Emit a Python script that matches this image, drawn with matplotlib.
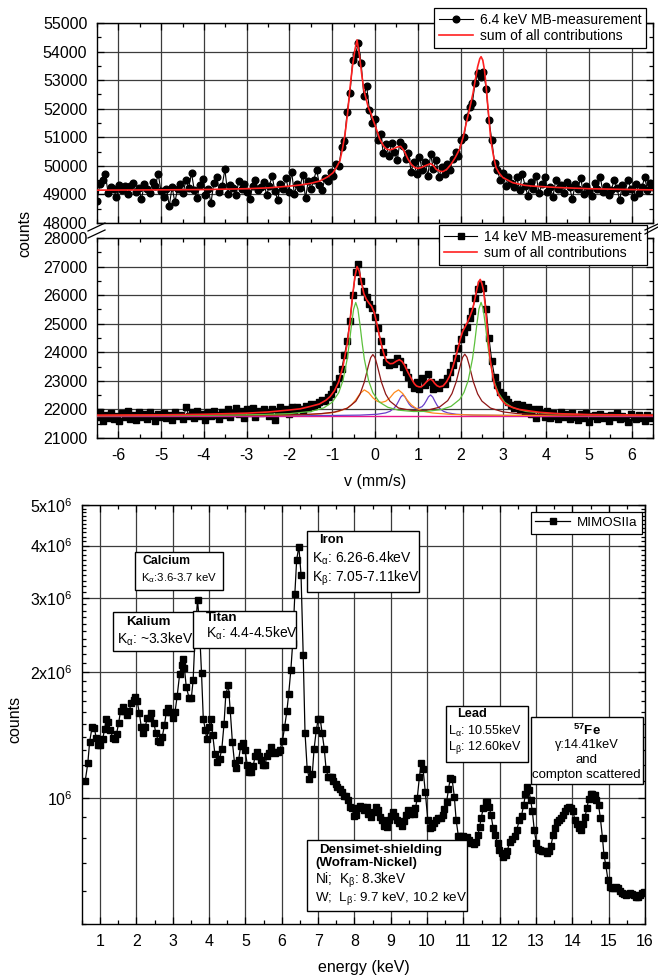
import numpy as np
import matplotlib
matplotlib.use('Agg')
import matplotlib.pyplot as plt
from matplotlib.lines import Line2D
from matplotlib.patches import Rectangle
from matplotlib.ticker import MultipleLocator, FixedLocator, FixedFormatter, NullFormatter

plt.rcParams['font.family'] = ['Liberation Sans', 'DejaVu Sans']
plt.rcParams['mathtext.fontset'] = 'custom'
plt.rcParams['mathtext.rm'] = 'Liberation Sans'
plt.rcParams['mathtext.it'] = 'Liberation Sans:italic'
plt.rcParams['mathtext.bf'] = 'Liberation Sans:bold'
plt.rcParams['mathtext.default'] = 'regular'
plt.rcParams['axes.unicode_minus'] = False

# ---------------- data ----------------
# 6.4 keV Moessbauer spectrum (counts per channel, channels spread over -6.5..6.5 mm/s)
counts_64 = [
    48760, 49350, 49520, 49700, 49050, 49260, 49180, 48900, 49330, 49150,
    49280, 49020, 49310, 49400, 49090, 49220, 48830, 49360, 49180, 49050,
    49450, 49280, 49730, 49120, 48910, 49200, 48600, 49260, 48730, 49180,
    49350, 49060, 49500, 49240, 49750, 49140, 48880, 49320, 49550, 48970,
    49200, 48690, 49400, 49620, 49100, 49290, 49880, 49030, 49340, 49210,
    48980, 49460, 49180, 49350, 49070, 48840, 49300, 49520, 49150, 49260,
    49430, 48980, 49310, 49640, 49120, 48810, 49360, 49200, 49560, 49100,
    49790, 49020, 49370, 49240, 49690, 48860, 49480, 49200, 49520, 49870,
    49340, 49140, 49580, 49460, 49790, 49650, 50080, 49980, 50650, 50880,
    51900, 52550, 53700, 53900, 54300, 53600, 52450, 52800, 51950, 51500,
    51650, 50900, 51100, 50450, 50750, 50350, 50800, 50500, 50200, 50850,
    50700, 50250, 50450, 49800, 50150, 49700, 50300, 49850, 50150, 49650,
    50400, 49900, 50200, 49600, 49950, 49700, 50050, 49850, 50250, 50500,
    50350, 50900, 51000, 51700, 52050, 52200, 52900, 53250, 53100, 53300,
    52700, 51600, 50900, 50100, 49850, 49500, 49750, 49300, 49600, 49400,
    49250, 49600, 49150, 49700, 49300, 48950, 49450, 49200, 49650, 49050,
    49350, 49600, 49100, 49250, 48920, 49500, 49180, 49340, 49060, 49450,
    49250, 48830, 49350, 49200, 49580, 49000, 49300, 49120, 48950, 49400,
    49200, 49620, 49090, 49300, 48980, 49160, 49500, 49240, 48800, 49330,
    49100, 49520, 49200, 48900, 49350, 49060, 49250, 49600, 49150, 49400,
    49250]

fit64_v = [-6.5, -5, -4, -3, -2.5, -2, -1.75, -1.5, -1.29, -1.1,
           -0.98, -0.9, -0.82, -0.76, -0.7, -0.64, -0.59, -0.53, -0.47, -0.42,
           -0.36, -0.31, -0.26, -0.2, -0.16, -0.1, -0.04, 0.04, 0.11, 0.2,
           0.27, 0.35, 0.42, 0.52, 0.6, 0.68, 0.77, 0.85, 0.93, 1.0,
           1.08, 1.2, 1.3, 1.37, 1.43, 1.52, 1.59, 1.68, 1.78, 1.88,
           1.98, 2.06, 2.13, 2.21, 2.29, 2.35, 2.4, 2.45, 2.48, 2.52,
           2.56, 2.6, 2.64, 2.71, 2.77, 2.83, 2.9, 2.99, 3.22, 3.5,
           3.69, 4.31, 5, 6, 6.5]
fit64_c = [49150, 49160, 49170, 49200, 49230, 49290, 49330, 49390, 49470, 49620,
           49760, 49950, 50180, 50600, 51120, 51850, 52650, 53450, 54060, 54410,
           53820, 53200, 52650, 52300, 52060, 51850, 51590, 51250, 50940, 50700,
           50590, 50560, 50590, 50660, 50680, 50530, 50240, 50050, 49940, 49910,
           49940, 50020, 50080, 50000, 49880, 49810, 49800, 49880, 50060, 50300,
           50590, 51000, 51470, 51990, 52530, 53050, 53470, 53750, 53820, 53700,
           53350, 52750, 52060, 50880, 50350, 49940, 49750, 49590, 49410, 49320,
           49290, 49240, 49200, 49170, 49160]

# 14 keV Moessbauer spectrum
counts_14 = [
    21750, 21900, 21600, 21820, 21700, 21880, 21650, 21780, 21600, 21860,
    21720, 21950, 21680, 21800, 21620, 21900, 21750, 21840, 21680, 21910,
    21770, 21610, 21850, 21720, 21880, 21700, 21820, 21640, 21900, 21760,
    21820, 21650, 22080, 21780, 21900, 21700, 21960, 21780, 21840, 21620,
    21900, 21770, 21960, 21800, 21680, 21920, 21800, 22010, 21750, 21880,
    22050, 21830, 21950, 21700, 22000, 21860, 22060, 21750, 21940, 21860,
    22030, 21900, 21780, 22010, 21620, 21950, 22080, 21900, 22010, 21850,
    22080, 21960, 22100, 22020, 21950, 22130, 22050, 22180, 22120, 22200,
    22260, 22330, 22300, 22450, 22550, 22700, 22900, 23100, 23400, 23900,
    24400, 25100, 26000, 26800, 27100, 26500, 26150, 25950, 25700, 25550,
    25250, 24850, 24400, 24000, 23650, 23550, 23650, 23600, 23800, 23700,
    23500, 23300, 23150, 22900, 22750, 22950, 22700, 23100, 22850, 23250,
    22950, 22700, 22900, 22750, 22950, 22900, 23100, 23300, 23550, 23800,
    24150, 24450, 24700, 24900, 25200, 25450, 25900, 26200, 26400, 26250,
    25500, 24500, 23700, 23150, 22850, 22600, 22500, 22350, 22250, 22150,
    22050, 22200, 22000, 22150, 21900, 22080, 21850, 22000, 21700, 22020,
    21880, 21750, 21950, 21700, 21860, 21780, 21650, 21900, 21720, 21830,
    21680, 21880, 21750, 21620, 21830, 21700, 21880, 21560, 21760, 21820,
    21650, 21840, 21700, 21780, 21590, 21800, 21720, 21880, 21650, 21780,
    21700, 21560, 21850, 21720, 21650, 21800, 21700, 21590, 21800, 21700,
    21750]

fit14_v = [-6.5, -5, -4, -3, -2.5, -2, -1.75, -1.5, -1.3, -1.15,
           -1.05, -0.95, -0.85, -0.75, -0.65, -0.59, -0.53, -0.47, -0.42, -0.37,
           -0.32, -0.26, -0.2, -0.14, -0.08, -0.02, 0.04, 0.1, 0.15, 0.21,
           0.27, 0.35, 0.42, 0.5, 0.57, 0.63, 0.69, 0.77, 0.85, 0.92,
           0.97, 1.03, 1.08, 1.14, 1.2, 1.25, 1.3, 1.35, 1.39, 1.45,
           1.51, 1.59, 1.67, 1.75, 1.82, 1.88, 1.94, 2.0, 2.05, 2.11,
           2.17, 2.23, 2.29, 2.34, 2.38, 2.42, 2.46, 2.5, 2.54, 2.58,
           2.61, 2.65, 2.69, 2.74, 2.79, 2.85, 2.91, 2.98, 3.06, 3.2,
           3.37, 3.6, 3.84, 4.31, 5.0, 6.5]
fit14_c = [21800, 21810, 21830, 21870, 21910, 21980, 22020, 22110, 22190, 22320,
           22450, 22650, 22960, 23500, 24300, 25000, 25900, 26650, 27000, 26850,
           26450, 26050, 25850, 25720, 25610, 25400, 25020, 24600, 24260, 23930,
           23690, 23600, 23610, 23690, 23740, 23680, 23550, 23300, 23080, 22900,
           22820, 22790, 22790, 22860, 22960, 23030, 23060, 23010, 22920, 22830,
           22790, 22820, 22960, 23180, 23490, 23800, 24140, 24500, 24730, 24900,
           25080, 25300, 25550, 25900, 26200, 26450, 26550, 26400, 26140, 25600,
           25080, 24400, 23790, 23300, 22900, 22650, 22450, 22300, 22170, 22080,
           22000, 21950, 21900, 21850, 21820, 21800]

# sub-spectra of the 14 keV fit
green_v = [-6.5, -4, -3, -2, -1.5, -1.2, -1.0, -0.85, -0.75, -0.65,
           -0.6, -0.55, -0.5, -0.45, -0.4, -0.35, -0.3, -0.25, -0.15, -0.05,
           0.1, 0.3, 0.55, 0.9, 1.2, 1.55, 1.78, 1.98, 2.08, 2.18,
           2.28, 2.33, 2.38, 2.43, 2.48, 2.53, 2.58, 2.63, 2.68, 2.78,
           2.88, 3.03, 3.23, 3.53, 4.03, 5.0, 6.5]
green_c = [21785, 21797, 21809, 21853, 21928, 22053, 22253, 22582, 23008, 23768,
           24321, 24953, 25511, 25744, 25512, 24954, 24323, 23770, 23010, 22586,
           22259, 22075, 21974, 21927, 21931, 21994, 22110, 22351, 22594, 23017,
           23775, 24327, 24959, 25516, 25748, 25516, 24958, 24326, 23774, 23011,
           22585, 22255, 22055, 21929, 21855, 21813, 21796]

brown_v = [-6.5, -3, -2, -1.55, -1.25, -0.95, -0.65, -0.45, -0.35, -0.25,
           -0.15, -0.1, -0.05, 0.0, 0.05, 0.15, 0.25, 0.35, 0.55, 0.85,
           1.025, 1.2, 1.5, 1.7, 1.8, 1.9, 2.0, 2.05, 2.1, 2.15,
           2.2, 2.3, 2.4, 2.5, 2.7, 3.0, 3.3, 3.6, 4.25, 5.0, 6.5]
brown_c = [21785, 21796, 21813, 21830, 21855, 21907, 22040, 22283, 22535, 22956,
           23555, 23815, 23920, 23815, 23555, 22957, 22537, 22287, 22049, 21964,
           21952, 21964, 22074, 22308, 22555, 22973, 23570, 23828, 23933, 23826,
           23566, 22966, 22543, 22291, 22047, 21912, 21859, 21833, 21809, 21797, 21785]

orange_v = [-6.5, -3, -2, -1.5, -1.05, -0.85, -0.65, -0.55, -0.45, -0.35,
            -0.25, -0.15, -0.05, 0.05, 0.15, 0.25, 0.35, 0.45, 0.55, 0.65,
            0.75, 0.85, 0.95, 1.15, 1.35, 1.8, 2.3, 3.3, 5.0, 6.5]
orange_c = [21783, 21792, 21805, 21824, 21874, 21929, 22048, 22160, 22335, 22555,
            22684, 22590, 22409, 22286, 22246, 22286, 22409, 22590, 22684, 22555,
            22335, 22160, 22048, 21929, 21874, 21824, 21805, 21792, 21785, 21783]

purple_v = [-6.5, -3, -1.0, -0.35, 0.05, 0.25, 0.35, 0.45, 0.5, 0.55,
            0.6, 0.65, 0.7, 0.75, 0.8, 0.85, 0.975, 1.1, 1.15, 1.2,
            1.25, 1.3, 1.35, 1.4, 1.45, 1.5, 1.6, 1.7, 1.9, 2.3, 3.0, 6.5]
purple_c = [21781, 21783, 21789, 21801, 21831, 21879, 21934, 22049, 22148, 22285,
            22431, 22505, 22442, 22306, 22182, 22097, 22022, 22097, 22182, 22306,
            22442, 22505, 22431, 22285, 22148, 22049, 21934, 21879, 21831, 21801,
            21789, 21781]

base_v = [-6.5, 6.5]
base_c = [21780, 21780]

# MIMOS IIa X-ray spectrum (energy in keV, counts in 10^6)
mimos_e = [
    0.59, 0.66, 0.71, 0.78, 0.84, 0.89, 0.94, 1.00, 1.07, 1.12,
    1.17, 1.22, 1.28, 1.35, 1.40, 1.45, 1.51, 1.56, 1.62, 1.67,
    1.73, 1.79, 1.86, 1.92, 1.97, 2.02, 2.08, 2.13, 2.19, 2.24,
    2.30, 2.36, 2.41, 2.48, 2.53, 2.60, 2.66, 2.71, 2.77, 2.82,
    2.88, 2.93, 3.00, 3.06, 3.12, 3.19, 3.24, 3.28, 3.32, 3.37,
    3.45, 3.51, 3.56, 3.61, 3.68, 3.72, 3.79, 3.84, 3.90, 3.93,
    4.00, 4.05, 4.10, 4.16, 4.23, 4.29, 4.35, 4.41, 4.46, 4.53,
    4.58, 4.64, 4.70, 4.75, 4.81, 4.87, 4.92, 4.99, 5.05, 5.10,
    5.15, 5.21, 5.27, 5.33, 5.38, 5.44, 5.49, 5.55, 5.58, 5.64,
    5.70, 5.77, 5.82, 5.90, 5.95, 6.02, 6.08, 6.14, 6.19, 6.25,
    6.30, 6.36, 6.41, 6.47, 6.53, 6.59, 6.64, 6.70, 6.76, 6.84,
    6.89, 6.95, 7.00, 7.06, 7.11, 7.17, 7.22, 7.28, 7.33, 7.39,
    7.42, 7.48, 7.53, 7.59, 7.65, 7.70, 7.77, 7.83, 7.88, 7.94,
    7.98, 8.04, 8.10, 8.16, 8.23, 8.27, 8.34, 8.38, 8.46, 8.53,
    8.59, 8.66, 8.71, 8.76, 8.82, 8.89, 8.94, 9.01, 9.06, 9.12,
    9.17, 9.24, 9.30, 9.36, 9.41, 9.47, 9.53, 9.58, 9.63, 9.68,
    9.73, 9.79, 9.84, 9.89, 9.95, 10.02, 10.08, 10.13, 10.19, 10.24,
    10.30, 10.37, 10.43, 10.48, 10.54, 10.59, 10.64, 10.69, 10.75, 10.80,
    10.86, 10.92, 10.99, 11.05, 11.11, 11.16, 11.22, 11.29, 11.36, 11.40,
    11.45, 11.49, 11.55, 11.61, 11.66, 11.71, 11.76, 11.82, 11.88, 11.94,
    11.99, 12.05, 12.10, 12.16, 12.21, 12.27, 12.34, 12.42, 12.47, 12.54,
    12.60, 12.66, 12.71, 12.76, 12.80, 12.85, 12.90, 12.95, 13.01, 13.06,
    13.12, 13.16, 13.23, 13.30, 13.35, 13.41, 13.47, 13.52, 13.58, 13.63,
    13.69, 13.74, 13.80, 13.85, 13.91, 13.96, 14.02, 14.07, 14.13, 14.18,
    14.24, 14.29, 14.35, 14.40, 14.45, 14.50, 14.55, 14.61, 14.66, 14.72,
    14.77, 14.83, 14.87, 14.92, 14.98, 15.03, 15.09, 15.14, 15.20, 15.25,
    15.31, 15.36, 15.42, 15.47, 15.53, 15.58, 15.64, 15.69, 15.75, 15.80,
    15.86, 15.91, 15.97]
mimos_c = [
    1.10, 1.21, 1.36, 1.48, 1.47, 1.39, 1.34, 1.34, 1.38, 1.46,
    1.54, 1.52, 1.45, 1.39, 1.38, 1.42, 1.51, 1.61, 1.65, 1.61,
    1.58, 1.61, 1.68, 1.71, 1.74, 1.70, 1.59, 1.48, 1.43, 1.48,
    1.55, 1.55, 1.59, 1.51, 1.43, 1.37, 1.36, 1.40, 1.49, 1.60,
    1.64, 1.60, 1.55, 1.60, 1.75, 1.98, 2.07, 2.14, 2.04, 1.84,
    1.73, 1.73, 1.91, 2.41, 2.97, 2.70, 1.99, 1.54, 1.45, 1.38,
    1.48, 1.54, 1.41, 1.27, 1.22, 1.24, 1.31, 1.50, 1.77, 1.86,
    1.62, 1.36, 1.21, 1.18, 1.23, 1.33, 1.35, 1.30, 1.20, 1.15,
    1.15, 1.19, 1.26, 1.29, 1.26, 1.23, 1.20, 1.20, 1.26, 1.28,
    1.32, 1.29, 1.28, 1.29, 1.30, 1.37, 1.48, 1.61, 1.77, 2.02,
    2.34, 3.07, 3.70, 3.98, 3.41, 2.19, 1.43, 1.17, 1.11, 1.14,
    1.31, 1.45, 1.54, 1.54, 1.43, 1.31, 1.17, 1.12, 1.12, 1.12,
    1.10, 1.08, 1.06, 1.05, 1.03, 1.01, 1.01, 0.99, 0.95, 0.945,
    0.903, 0.911, 0.945, 0.957, 0.95, 0.936, 0.95, 0.916, 0.902, 0.923,
    0.950, 0.936, 0.902, 0.886, 0.857, 0.851, 0.886, 0.906, 0.923, 0.906,
    0.886, 0.870, 0.857, 0.883, 0.911, 0.936, 0.916, 0.928, 0.916, 0.945,
    0.998, 1.124, 1.210, 1.171, 1.035, 0.886, 0.846, 0.854, 0.870, 0.886,
    0.894, 0.894, 0.911, 0.940, 0.980, 1.049, 1.114, 1.108, 1.007, 0.886,
    0.812, 0.809, 0.809, 0.801, 0.806, 0.794, 0.780, 0.777, 0.783, 0.816,
    0.854, 0.897, 0.945, 0.980, 0.980, 0.950, 0.911, 0.846, 0.816, 0.780,
    0.751, 0.738, 0.724, 0.731, 0.748, 0.783, 0.797, 0.809, 0.839, 0.886,
    0.906, 0.962, 1.022, 1.064, 1.045, 0.989, 0.928, 0.839, 0.780, 0.754,
    0.751, 0.746, 0.746, 0.738, 0.746, 0.768, 0.816, 0.846, 0.878, 0.886,
    0.894, 0.911, 0.928, 0.945, 0.953, 0.945, 0.928, 0.886, 0.866, 0.846,
    0.839, 0.866, 0.902, 0.945, 0.993, 1.022, 1.022, 1.017, 0.989, 0.962,
    0.897, 0.801, 0.731, 0.692, 0.637, 0.614, 0.609, 0.609, 0.614, 0.609,
    0.601, 0.592, 0.590, 0.587, 0.590, 0.592, 0.590, 0.587, 0.581, 0.581,
    0.587, 0.592, 0.597]

log_ticks = [1, 2, 3, 4, 5]
log_labels = ['10$^6$', '2x10$^6$', '3x10$^6$', '4x10$^6$', '5x10$^6$']

# ---------------- figure ----------------
W, H = 658, 975
fig = plt.figure(figsize=(W / 100, H / 100), dpi=100)


def px_rect(x0, y0, x1, y1):
    # pixel box (origin top-left) -> figure fraction
    return [x0 / W, 1 - y1 / H, (x1 - x0) / W, (y1 - y0) / H]


def style(ax):
    ax.tick_params(which='both', direction='in', top=True, right=True,
                   labelsize=11.5, pad=7, width=0.9)
    ax.tick_params(which='major', length=5)
    ax.tick_params(which='minor', length=3)
    ax.grid(which='major', color='#3c3c3c', lw=0.9)
    ax.set_axisbelow(True)
    for s in ax.spines.values():
        s.set_linewidth(1.0)


ax1 = fig.add_axes(px_rect(97, 23, 653, 223))
ax2 = fig.add_axes(px_rect(97, 238, 653, 438))
ax3 = fig.add_axes(px_rect(82, 505, 645, 924))

vel64 = np.linspace(-6.5, 6.5, len(counts_64))
vel14 = np.linspace(-6.5, 6.5, len(counts_14))

# upper: 6.4 keV
ax1.plot(vel64, counts_64, color='black', lw=0.8, marker='o', ms=4.8,
         label='6.4 keV MB-measurement', zorder=3)
ax1.plot(fit64_v, fit64_c, color='#ff2020', lw=1.2,
         label='sum of all contributions', zorder=4)
ax1.set_xlim(-6.5, 6.5)
ax1.set_ylim(48000, 55000)
ax1.xaxis.set_major_locator(MultipleLocator(1))
ax1.xaxis.set_minor_locator(MultipleLocator(0.5))
ax1.yaxis.set_major_locator(MultipleLocator(1000))
ax1.yaxis.set_minor_locator(MultipleLocator(500))
style(ax1)
ax1.tick_params(labelbottom=False)

# middle: 14 keV
ax2.plot(vel14, counts_14, color='black', lw=0.8, marker='s', ms=4.4,
         label='14 keV MB-measurement', zorder=3)
ax2.plot(base_v, base_c, color='#e8168a', lw=1.0, zorder=4)
ax2.plot(purple_v, purple_c, color='#6a3fc9', lw=0.9, zorder=4)
ax2.plot(orange_v, orange_c, color='#ff8a1c', lw=0.9, zorder=4)
ax2.plot(brown_v, brown_c, color='#8e1616', lw=0.9, zorder=4)
ax2.plot(green_v, green_c, color='#5cc03c', lw=0.9, zorder=4)
ax2.plot(fit14_v, fit14_c, color='#ff2020', lw=1.2,
         label='sum of all contributions', zorder=5)
ax2.set_xlim(-6.5, 6.5)
ax2.set_ylim(21000, 28000)
ax2.xaxis.set_major_locator(MultipleLocator(1))
ax2.xaxis.set_minor_locator(MultipleLocator(0.5))
ax2.yaxis.set_major_locator(MultipleLocator(1000))
ax2.yaxis.set_minor_locator(MultipleLocator(500))
style(ax2)
ax2.set_xlabel('v (mm/s)', fontsize=11.5, labelpad=8)

legkw = dict(loc='upper right', bbox_transform=fig.transFigure, borderaxespad=0,
             frameon=True, fancybox=False, edgecolor='black', framealpha=1,
             handletextpad=0.5, labelspacing=0.15, borderpad=0.35)
leg1 = ax1.legend(bbox_to_anchor=(646 / W, 1 - 8 / H), fontsize=10,
                  handlelength=2.4, **legkw)
leg2 = ax2.legend(bbox_to_anchor=(647 / W, 1 - 225 / H), fontsize=10,
                  handlelength=2.4, **legkw)
for lg in (leg1, leg2):
    lg.get_frame().set_linewidth(0.9)
    lg.set_zorder(20)

# axis break marks
for (xa, ya, xb, yb) in [(88, 231, 105, 223), (88, 238, 105, 230),
                         (645, 230, 658, 224), (645, 234, 658, 227)]:
    fig.add_artist(Line2D([xa / W, xb / W], [1 - ya / H, 1 - yb / H],
                          transform=fig.transFigure, color='black', lw=0.9))

fig.text(25 / W, 1 - 233 / H, 'counts', rotation=90, fontsize=11.5,
         ha='center', va='center')

# bottom: MIMOS IIa spectrum
ax3.plot(mimos_e, mimos_c, color='black', lw=0.9, marker='s', ms=3.8,
         label='MIMOSIIa', zorder=3)
ax3.set_yscale('log')
ax3.set_xlim(0.5, 16)
ax3.set_ylim(0.5, 5)
ax3.xaxis.set_major_locator(MultipleLocator(1))
ax3.xaxis.set_minor_locator(MultipleLocator(0.5))
ax3.yaxis.set_major_locator(FixedLocator(log_ticks))
ax3.yaxis.set_major_formatter(FixedFormatter(log_labels))
ax3.yaxis.set_minor_locator(FixedLocator([k / 10 for k in range(5, 50) if k % 10]))
ax3.yaxis.set_minor_formatter(NullFormatter())
style(ax3)
ax3.set_xlabel('energy (keV)', fontsize=11.5, labelpad=8)
fig.text(15 / W, 1 - 719 / H, 'counts', rotation=90, fontsize=11.5,
         ha='center', va='center')

leg3 = ax3.legend(bbox_to_anchor=(642 / W, 1 - 512 / H), fontsize=9.6,
                  handlelength=2.6, **legkw)
leg3.get_frame().set_linewidth(0.9)

# annotation boxes (axes fractions)
notes = [
    ((0.0941, 0.7971, 0.1563, 0.0907),
     [(0.1504, 0.866, 'Calcium', 8.8, 'bold', 'center'),
      (0.172, 0.826, 'K$_\\alpha$:3.6-3.7 keV', 8.2, 'normal', 'center')]),
    ((0.0557, 0.6523, 0.1439, 0.0930),
     [(0.1185, 0.7208, 'Kalium', 9.6, 'bold', 'center'),
      (0.1302, 0.680, 'K$_\\alpha$: ~3.3keV', 10, 'normal', 'center')]),
    ((0.1966, 0.6580, 0.1835, 0.0898),
     [(0.2202, 0.7296, 'Titan', 9.6, 'bold', 'left'),
      (0.2202, 0.6938, 'K$_\\alpha$: 4.4-4.5keV', 10, 'normal', 'left')]),
    ((0.3996, 0.7931, 0.1995, 0.1456),
     [(0.4215, 0.9165, 'Iron', 9.4, 'bold', 'left'),
      (0.4085, 0.8728, 'K$_\\alpha$: 6.26-6.4keV', 10, 'normal', 'left'),
      (0.4085, 0.825, 'K$_\\beta$: 7.05-7.11keV', 10, 'normal', 'left')]),
    ((0.6460, 0.3874, 0.1467, 0.1329),
     [(0.6655, 0.5005, 'Lead', 9.2, 'bold', 'left'),
      (0.6495, 0.4585, 'L$_\\alpha$: 10.55keV', 9.0, 'normal', 'left'),
      (0.6495, 0.4215, 'L$_\\beta$: 12.60keV', 9.0, 'normal', 'left')]),
    ((0.7975, 0.3341, 0.1995, 0.1592),
     [(0.8964, 0.4613, '$^{\\mathbf{57}}$Fe', 9.6, 'bold', 'center'),
      (0.8964, 0.4272, 'γ:14.41keV', 9.2, 'normal', 'center'),
      (0.8964, 0.3914, 'and', 9.5, 'normal', 'center'),
      (0.8964, 0.3556, 'compton scattered', 9.5, 'normal', 'center')]),
    ((0.4002, 0.0317, 0.2842, 0.1688),
     [(0.4215, 0.1766, 'Densimet-shielding', 9.6, 'bold', 'left'),
      (0.4139, 0.1449, '(Wofram-Nickel)', 9.6, 'bold', 'left'),
      (0.4139, 0.105, 'Ni;  K$_\\beta$: 8.3keV', 9.8, 'normal', 'left'),
      (0.4139, 0.0613, 'W;  L$_\\beta$: 9.7 keV, 10.2 keV', 9.6, 'normal', 'left')]),
]
for (x0, y0, w, h), lines in notes:
    ax3.add_patch(Rectangle((x0, y0), w, h, transform=ax3.transAxes,
                            facecolor='white', edgecolor='black', lw=1.0,
                            zorder=6, clip_on=False))
    for (tx, ty, s, fs, fw, ha) in lines:
        ax3.text(tx, ty, s, transform=ax3.transAxes, fontsize=fs,
                 fontweight=fw, ha=ha, va='center', zorder=7)

fig.savefig('out.png', dpi=100)
